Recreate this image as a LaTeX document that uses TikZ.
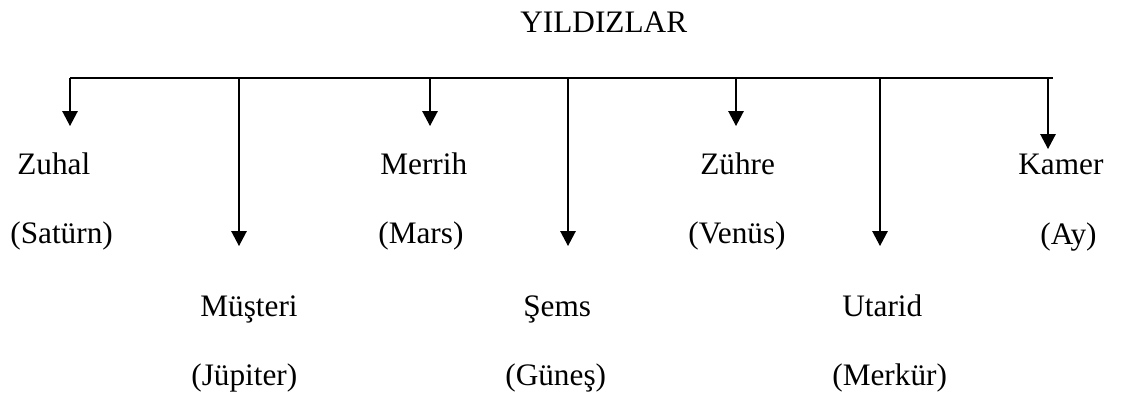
\documentclass[tikz,border=0pt]{standalone}
\usepackage{fontspec}
\setmainfont{Liberation Serif}
\usetikzlibrary{arrows.meta}

\begin{document}
\begin{tikzpicture}[x=0.02cm, y=-0.02cm,
    lbl/.style={anchor=base west, inner sep=0pt, font=\fontsize{17.8}{21}\selectfont},
    arr/.style={-{Triangle[length=0.3cm, width=0.31cm]}, line width=0.75pt},
    bus/.style={line width=0.75pt}
]
\useasboundingbox (0,0) rectangle (1121,397);

% title
\node[lbl] (title) at (520,32) {YILDIZLAR};

% bus line and branch points
\coordinate (busL) at (70,78);
\coordinate (busR) at (1053,78);
\coordinate (bZuhal) at (70,78);
\coordinate (bMusteri) at (239,78);
\coordinate (bMerrih) at (430,78);
\coordinate (bSems) at (568,78);
\coordinate (bZuhre) at (736,78);
\coordinate (bUtarid) at (880,78);
\coordinate (bKamer) at (1048,78);

% arrow tips
\coordinate (tZuhal) at (70,126);
\coordinate (tMusteri) at (239,246);
\coordinate (tMerrih) at (430,126);
\coordinate (tSems) at (568,246);
\coordinate (tZuhre) at (736,126);
\coordinate (tUtarid) at (880,246);
\coordinate (tKamer) at (1048,149);

% upper row
\node[lbl] (zuhal) at (17,174) {Zuhal};
\node[lbl] (saturn) at (10,243) {(Satürn)};
\node[lbl] (merrih) at (380,174) {Merrih};
\node[lbl] (mars) at (378,243) {(Mars)};
\node[lbl] (zuhre) at (700,174) {Zühre};
\node[lbl] (venus) at (688,243) {(Venüs)};
\node[lbl] (kamer) at (1018,174) {Kamer};
\node[lbl] (ay) at (1040,244) {(Ay)};

% lower row
\node[lbl] (musteri) at (200,316) {Müşteri};
\node[lbl] (jupiter) at (191,385) {(Jüpiter)};
\node[lbl] (sems) at (523,316) {Şems};
\node[lbl] (gunes) at (505,385) {(Güneş)};
\node[lbl] (utarid) at (842,316) {Utarid};
\node[lbl] (merkur) at (832,385) {(Merkür)};

\draw[bus] (busL) -- (busR);
\draw[arr] (bZuhal) -- (tZuhal);
\draw[arr] (bMusteri) -- (tMusteri);
\draw[arr] (bMerrih) -- (tMerrih);
\draw[arr] (bSems) -- (tSems);
\draw[arr] (bZuhre) -- (tZuhre);
\draw[arr] (bUtarid) -- (tUtarid);
\draw[arr] (bKamer) -- (tKamer);
\end{tikzpicture}
\end{document}
